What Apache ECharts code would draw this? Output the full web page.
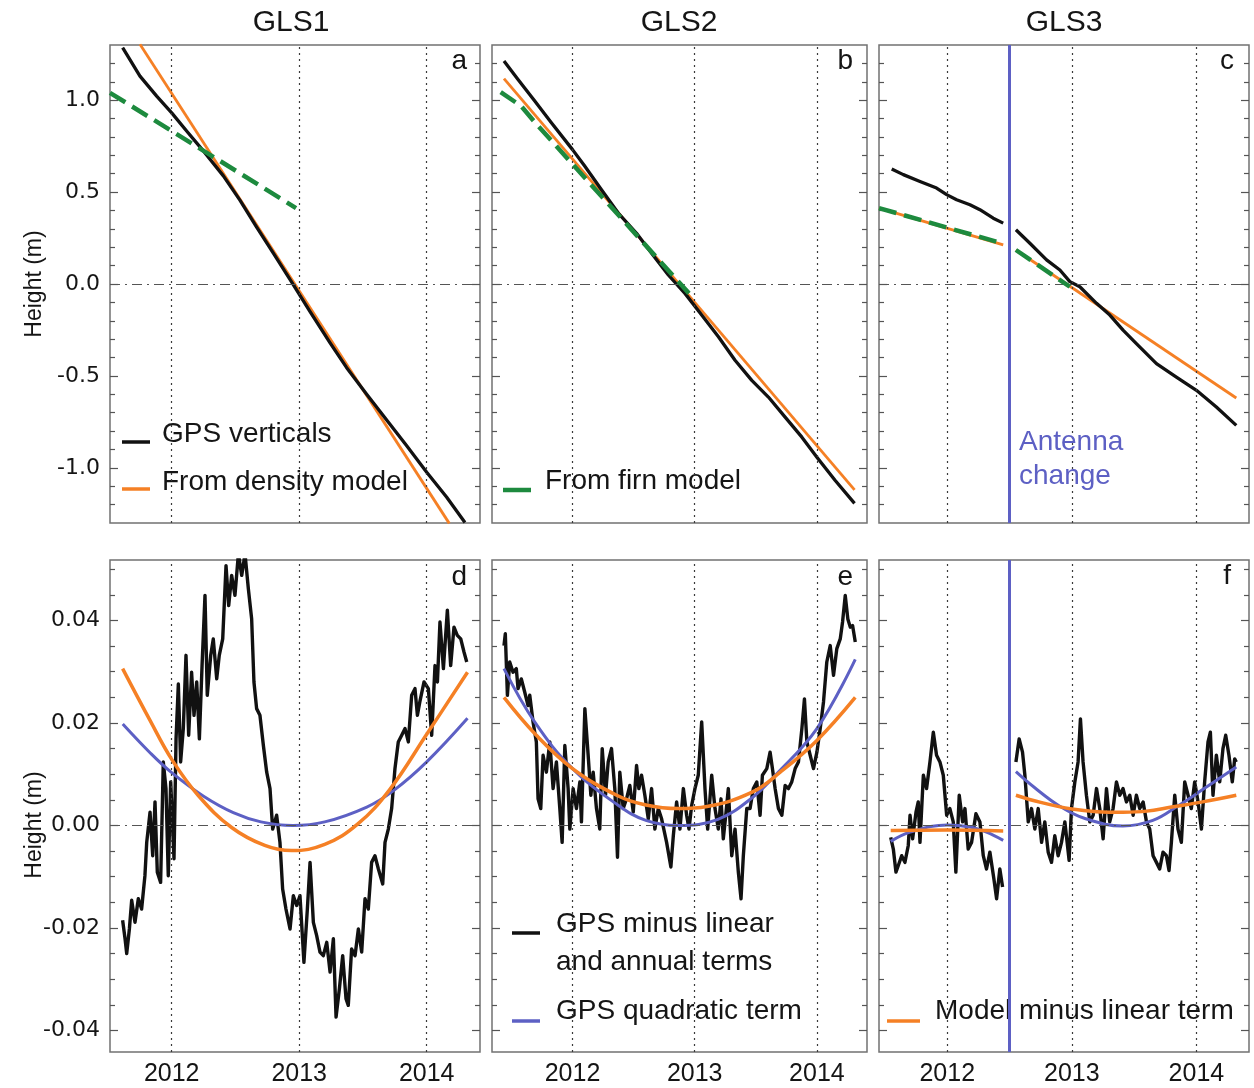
<!DOCTYPE html>
<html>
<head>
<meta charset="utf-8">
<script src="https://cdn.jsdelivr.net/npm/echarts@6/dist/echarts.min.js"></script>
<style>
  html, body { margin: 0; padding: 0; background: #fff; }
  #chart { width: 1254px; height: 1088px; }
</style>
</head>
<body>
<div id="chart"></div>
<script>
// ---------- axis ticks ----------
const yearTicks = [2012, 2013, 2014];
const topLabelTicks = [-1, -0.5, 0, 0.5, 1];
const topMinorTicks = [-1.2, -1.1, -0.9, -0.8, -0.7, -0.6, -0.4, -0.3, -0.2, -0.1,
                       0.1, 0.2, 0.3, 0.4, 0.6, 0.7, 0.8, 0.9, 1.1, 1.2];
const bottomLabelTicks = [-0.04, -0.02, 0, 0.02, 0.04];
const bottomMinorTicks = [-0.035, -0.03, -0.025, -0.015, -0.01, -0.005,
                          0.005, 0.01, 0.015, 0.025, 0.03, 0.035, 0.045, 0.05];
const antennaChange = 2012.5;

// ---------- GLS1 heights (m) ----------
const gls1Gps = [[2011.615,1.286],[2011.751,1.131],[2011.882,1.022],[2012.0,0.931],[2012.117,0.832],
  [2012.261,0.713],[2012.405,0.588],[2012.536,0.455],[2012.666,0.310],[2012.797,0.168],[2012.941,0.010],
  [2013.085,-0.150],[2013.242,-0.320],[2013.372,-0.455],[2013.529,-0.600],[2013.686,-0.740],
  [2013.843,-0.880],[2014.0,-1.024],[2014.157,-1.160],[2014.300,-1.297]];
const gls1Density = [[2011.751,1.304],[2014.177,-1.302]];
const gls1Firn = [[2011.516,1.040],[2012.975,0.413]];

// ---------- GLS2 heights (m) ----------
const gls2Gps = [[2011.439,1.213],[2011.554,1.113],[2011.691,0.995],[2011.827,0.877],[2012.0,0.731],
  [2012.101,0.640],[2012.237,0.513],[2012.374,0.386],[2012.524,0.276],[2012.647,0.167],[2012.784,0.049],
  [2012.920,-0.051],[2013.057,-0.169],[2013.194,-0.287],[2013.330,-0.415],[2013.467,-0.524],
  [2013.603,-0.615],[2013.740,-0.724],[2013.877,-0.833],[2014.0,-0.942],[2014.150,-1.069],[2014.308,-1.193]];
const gls2Density = [[2011.439,1.117],[2014.308,-1.120]];
const gls2Firn = [[2011.412,1.044],[2011.581,0.967],[2011.691,0.880],[2012.953,-0.051]];

// ---------- GLS3 heights (m), before / after the antenna change ----------
const gls3GpsBefore = [[2011.554,0.626],[2011.647,0.595],[2011.781,0.558],[2011.914,0.522],[2011.995,0.486],
  [2012.075,0.458],[2012.182,0.431],[2012.262,0.404],[2012.369,0.358],[2012.449,0.331]];
const gls3GpsAfter = [[2012.551,0.295],[2012.663,0.222],[2012.797,0.131],[2012.904,0.076],[2012.984,0.013],
  [2013.064,-0.015],[2013.198,-0.105],[2013.305,-0.169],[2013.411,-0.251],[2013.518,-0.324],
  [2013.679,-0.433],[2013.839,-0.506],[2014.0,-0.578],[2014.160,-0.669],[2014.320,-0.769]];
const gls3DensityBefore = [[2011.452,0.413],[2012.449,0.213]];
const gls3DensityAfter = [[2012.551,0.185],[2014.320,-0.620]];
const gls3FirnBefore = [[2011.452,0.413],[2012.436,0.222]];
const gls3FirnAfter = [[2012.551,0.185],[2012.984,-0.015]];

// ---------- GLS1 residuals (m) ----------
const gls1Resid = [[2011.615,-0.0185],[2011.634,-0.0221],[2011.647,-0.0250],[2011.668,-0.0202],[2011.686,-0.0146],
  [2011.712,-0.0189],[2011.738,-0.0143],[2011.764,-0.0163],[2011.790,-0.0098],[2011.804,-0.0033],
  [2011.830,0.0026],[2011.851,-0.0059],[2011.869,0.0046],[2011.887,-0.0091],[2011.913,-0.0111],
  [2011.934,0.0124],[2011.955,0.0072],[2011.973,-0.0098],[2011.992,0.0085],[2012.018,-0.0065],
  [2012.034,0.0169],[2012.052,0.0276],[2012.070,0.0124],[2012.091,0.0189],[2012.112,0.0332],
  [2012.133,0.0176],[2012.156,0.0299],[2012.175,0.0215],[2012.196,0.0280],[2012.217,0.0169],
  [2012.238,0.0312],[2012.261,0.0449],[2012.279,0.0254],[2012.306,0.0332],[2012.326,0.0364],
  [2012.353,0.0286],[2012.373,0.0332],[2012.400,0.0364],[2012.426,0.0507],[2012.447,0.0429],
  [2012.470,0.0488],[2012.496,0.0449],[2012.523,0.0530],[2012.549,0.0488],[2012.575,0.0530],
  [2012.601,0.0462],[2012.627,0.0403],[2012.645,0.0280],[2012.666,0.0228],[2012.692,0.0215],
  [2012.719,0.0156],[2012.745,0.0104],[2012.771,0.0072],[2012.792,-0.0007],[2012.823,0.0020],
  [2012.849,-0.0033],[2012.870,-0.0124],[2012.896,-0.0163],[2012.928,-0.0202],[2012.954,-0.0137],
  [2012.980,-0.0156],[2013.006,-0.0137],[2013.037,-0.0267],[2013.064,-0.0163],[2013.085,-0.0072],
  [2013.111,-0.0189],[2013.137,-0.0215],[2013.163,-0.0247],[2013.189,-0.0254],[2013.216,-0.0228],
  [2013.242,-0.0286],[2013.268,-0.0221],[2013.289,-0.0374],[2013.315,-0.0319],[2013.341,-0.0254],
  [2013.367,-0.0338],[2013.385,-0.0351],[2013.411,-0.0241],[2013.438,-0.0254],[2013.464,-0.0202],
  [2013.490,-0.0247],[2013.516,-0.0143],[2013.542,-0.0163],[2013.568,-0.0072],[2013.594,-0.0059],
  [2013.621,-0.0085],[2013.655,-0.0114],[2013.673,-0.0033],[2013.699,-0.0007],[2013.725,0.0033],
  [2013.751,0.0111],[2013.777,0.0163],[2013.804,0.0176],[2013.830,0.0189],[2013.856,0.0163],
  [2013.882,0.0254],[2013.908,0.0267],[2013.927,0.0215],[2013.946,0.0241],[2013.979,0.0280],
  [2014.013,0.0267],[2014.039,0.0176],[2014.065,0.0312],[2014.084,0.0280],[2014.104,0.0397],
  [2014.131,0.0306],[2014.162,0.0420],[2014.188,0.0312],[2014.214,0.0387],[2014.240,0.0371],
  [2014.267,0.0364],[2014.293,0.0338],[2014.314,0.0319]];
const gls1Quad = [[2011.616,0.0198],[2011.83,0.0142],[2012.0,0.0103],[2012.25,0.0057],[2012.483,0.0025],
  [2012.7,0.0007],[2012.95,0.0],[2013.2,0.0007],[2013.53,0.0036],[2013.74,0.0068],[2014.0,0.0124],[2014.32,0.0209]];
const gls1Model = [[2011.615,0.0306],[2011.83,0.0205],[2012.0,0.0129],[2012.21,0.0058],[2012.47,-0.0004],
  [2012.73,-0.0039],[2012.94,-0.0049],[2013.2,-0.0037],[2013.46,0.0003],[2013.71,0.0070],[2014.0,0.0178],[2014.32,0.0299]];

// ---------- GLS2 residuals (m) ----------
const gls2Resid = [[2011.439,0.0351],[2011.450,0.0374],[2011.467,0.0254],[2011.486,0.0319],[2011.513,0.0299],
  [2011.540,0.0306],[2011.554,0.0267],[2011.581,0.0286],[2011.609,0.0260],[2011.636,0.0234],
  [2011.650,0.0254],[2011.677,0.0202],[2011.704,0.0163],[2011.718,0.0052],[2011.740,0.0033],
  [2011.759,0.0137],[2011.786,0.0104],[2011.814,0.0163],[2011.841,0.0072],[2011.868,0.0124],
  [2011.896,0.0033],[2011.915,-0.0033],[2011.937,0.0156],[2011.964,0.0072],[2011.978,-0.0007],
  [2012.005,0.0072],[2012.032,0.0033],[2012.060,0.0085],[2012.073,0.0007],[2012.101,0.0228],
  [2012.128,0.0137],[2012.150,0.0059],[2012.169,0.0104],[2012.196,0.0033],[2012.223,-0.0007],
  [2012.243,0.0150],[2012.270,0.0059],[2012.292,0.0124],[2012.319,0.0150],[2012.346,0.0072],
  [2012.368,-0.0062],[2012.387,0.0104],[2012.415,0.0033],[2012.442,0.0052],[2012.469,0.0078],
  [2012.497,0.0026],[2012.524,0.0117],[2012.543,0.0072],[2012.565,0.0098],[2012.592,0.0059],
  [2012.620,0.0013],[2012.647,0.0072],[2012.674,-0.0007],[2012.702,0.0033],[2012.729,0.0013],
  [2012.770,-0.0033],[2012.805,-0.0081],[2012.825,-0.0020],[2012.852,0.0046],[2012.879,-0.0007],
  [2012.907,0.0072],[2012.934,0.0020],[2012.953,-0.0007],[2012.975,0.0039],[2013.002,0.0072],
  [2013.029,0.0098],[2013.057,0.0202],[2013.084,0.0072],[2013.106,-0.0007],[2013.139,0.0098],
  [2013.166,0.0033],[2013.193,-0.0007],[2013.215,0.0052],[2013.234,-0.0026],[2013.254,0.0020],
  [2013.275,0.0072],[2013.303,-0.0059],[2013.330,-0.0007],[2013.357,-0.0091],[2013.379,-0.0143],
  [2013.398,-0.0059],[2013.426,0.0033],[2013.453,0.0033],[2013.480,0.0072],[2013.508,0.0085],
  [2013.535,0.0020],[2013.554,0.0098],[2013.590,0.0111],[2013.617,0.0143],[2013.636,0.0111],
  [2013.658,0.0072],[2013.685,0.0033],[2013.713,0.0020],[2013.740,0.0078],[2013.767,0.0072],
  [2013.794,0.0085],[2013.822,0.0111],[2013.849,0.0124],[2013.877,0.0189],[2013.898,0.0247],
  [2013.918,0.0163],[2013.945,0.0137],[2013.972,0.0111],[2014.000,0.0143],[2014.027,0.0189],
  [2014.054,0.0241],[2014.081,0.0319],[2014.109,0.0351],[2014.136,0.0293],[2014.163,0.0345],
  [2014.191,0.0364],[2014.210,0.0397],[2014.232,0.0449],[2014.253,0.0403],[2014.273,0.0387],
  [2014.292,0.0390],[2014.314,0.0358]];
const gls2Quad = [[2011.439,0.0306],[2011.69,0.0202],[2012.0,0.0111],[2012.37,0.0040],[2012.6,0.0010],
  [2012.866,0.0],[2013.19,0.0012],[2013.47,0.0054],[2013.66,0.0098],[2014.0,0.0189],[2014.314,0.0324]];
const gls2Model = [[2011.439,0.0250],[2011.7,0.0177],[2012.0,0.0111],[2012.37,0.0058],[2012.6,0.0040],
  [2012.866,0.0033],[2013.1,0.0037],[2013.47,0.0065],[2013.7,0.0104],[2014.0,0.0166],[2014.314,0.0250]];

// ---------- GLS3 residuals (m), before / after the antenna change ----------
const gls3ResidBefore = [[2011.546,-0.0023],[2011.567,-0.0046],[2011.588,-0.0091],[2011.607,-0.0078],
  [2011.634,-0.0059],[2011.660,-0.0072],[2011.687,-0.0039],[2011.701,0.0020],[2011.722,-0.0026],
  [2011.749,0.0026],[2011.767,0.0046],[2011.781,-0.0033],[2011.808,0.0098],[2011.834,0.0072],
  [2011.861,0.0124],[2011.888,0.0182],[2011.914,0.0137],[2011.941,0.0124],[2011.968,0.0098],
  [2011.995,0.0020],[2012.021,0.0033],[2012.048,0.0007],[2012.069,-0.0091],[2012.096,0.0059],
  [2012.123,0.0007],[2012.142,0.0033],[2012.168,-0.0046],[2012.195,-0.0033],[2012.230,0.0023],
  [2012.262,0.0007],[2012.289,-0.0059],[2012.315,-0.0085],[2012.342,-0.0052],[2012.374,-0.0104],
  [2012.396,-0.0143],[2012.422,-0.0085],[2012.444,-0.0120]];
const gls3ResidAfter = [[2012.551,0.0124],[2012.577,0.0169],[2012.604,0.0143],[2012.623,0.0098],
  [2012.650,0.0007],[2012.676,0.0033],[2012.703,-0.0007],[2012.730,0.0033],[2012.757,-0.0033],
  [2012.783,0.0007],[2012.810,-0.0052],[2012.837,-0.0072],[2012.863,-0.0020],[2012.890,-0.0059],
  [2012.917,-0.0033],[2012.944,0.0007],[2012.978,-0.0068],[2012.997,0.0033],[2013.024,0.0085],
  [2013.050,0.0124],[2013.069,0.0208],[2013.090,0.0124],[2013.117,0.0059],[2013.144,0.0007],
  [2013.171,0.0020],[2013.198,0.0072],[2013.224,0.0033],[2013.251,-0.0026],[2013.278,0.0072],
  [2013.304,0.0007],[2013.331,0.0033],[2013.358,0.0085],[2013.385,0.0059],[2013.411,0.0072],
  [2013.438,0.0046],[2013.465,0.0059],[2013.492,0.0020],[2013.518,0.0059],[2013.545,0.0033],
  [2013.572,0.0046],[2013.599,0.0007],[2013.625,-0.0007],[2013.652,-0.0059],[2013.679,-0.0072],
  [2013.705,-0.0085],[2013.732,-0.0052],[2013.759,-0.0059],[2013.780,-0.0088],[2013.799,-0.0033],
  [2013.826,0.0059],[2013.852,-0.0007],[2013.879,-0.0033],[2013.906,0.0085],[2013.933,0.0059],
  [2013.959,0.0033],[2013.986,0.0085],[2014.013,0.0046],[2014.040,-0.0007],[2014.066,0.0085],
  [2014.093,0.0163],[2014.112,0.0182],[2014.133,0.0059],[2014.160,0.0137],[2014.187,0.0085],
  [2014.213,0.0150],[2014.235,0.0176],[2014.261,0.0137],[2014.288,0.0085],[2014.307,0.0130],
  [2014.320,0.0124]];
const gls3QuadBefore = [[2011.546,-0.0031],[2011.701,-0.0013],[2012.0,0.0001],[2012.182,-0.0003],
  [2012.315,-0.0013],[2012.449,-0.0029]];
const gls3QuadAfter = [[2012.551,0.0105],[2012.7,0.0074],[2012.9,0.0038],[2013.1,0.0014],[2013.41,-0.0001],
  [2013.65,0.0010],[2013.85,0.0038],[2014.05,0.0070],[2014.32,0.0114]];
const gls3ModelBefore = [[2011.546,-0.0010],[2012.0,-0.0009],[2012.449,-0.0011]];
const gls3ModelAfter = [[2012.551,0.0059],[2012.75,0.0045],[2013.0,0.0032],[2013.2,0.0027],[2013.41,0.0026],
  [2013.6,0.0028],[2013.8,0.0036],[2014.05,0.0046],[2014.32,0.0059]];

// ---------- styling ----------
const FONT = '"Liberation Sans", Arial, Helvetica, sans-serif';
const BLACK = '#111111';
const ORANGE = '#f58025';
const GREEN = '#1d8a3e';
const BLUE = '#5d60c4';
const FRAME = '#727272';

const panels = [
  { left: 110, top: 45,  width: 370, height: 478, xMin: 2011.516, xMax: 2014.418, row: 0, col: 0 },
  { left: 492, top: 45,  width: 375, height: 478, xMin: 2011.341, xMax: 2014.410, row: 0, col: 1 },
  { left: 879, top: 45,  width: 370, height: 478, xMin: 2011.452, xMax: 2014.422, row: 0, col: 2 },
  { left: 110, top: 560, width: 370, height: 492, xMin: 2011.516, xMax: 2014.418, row: 1, col: 0 },
  { left: 492, top: 560, width: 375, height: 492, xMin: 2011.341, xMax: 2014.410, row: 1, col: 1 },
  { left: 879, top: 560, width: 370, height: 492, xMin: 2011.452, xMax: 2014.422, row: 1, col: 2 }
];
const yRange = [{ min: -1.3, max: 1.3 }, { min: -0.0442, max: 0.0518 }];

const grids = [], xAxes = [], yAxes = [], series = [];

panels.forEach((p, i) => {
  grids.push({ left: p.left, top: p.top, width: p.width, height: p.height,
    show: true, borderColor: FRAME, borderWidth: 1.5, backgroundColor: 'transparent' });

  xAxes.push({ gridIndex: i, type: 'value', min: p.xMin, max: p.xMax,
    axisLine: { show: false }, axisTick: { show: false }, splitLine: { show: false },
    axisLabel: { show: p.row === 1, customValues: yearTicks, formatter: v => String(Math.round(v)),
      fontFamily: FONT, fontSize: 25, color: '#151515', margin: 10 } });

  const major = p.row === 0 ? topLabelTicks : bottomLabelTicks;
  const minor = p.row === 0 ? topMinorTicks : bottomMinorTicks;
  const digits = p.row === 0 ? 1 : 2;
  const base = { gridIndex: i, type: 'value', min: yRange[p.row].min, max: yRange[p.row].max,
    axisLine: { show: false }, splitLine: { show: false } };
  const tick = (vals, len) => ({ show: true, inside: true, length: len, customValues: vals,
    lineStyle: { color: '#555', width: 1.2 } });
  yAxes.push(Object.assign({}, base, { position: 'left', axisTick: tick(major, 8),
    axisLabel: { show: p.col === 0, customValues: major, formatter: v => v.toFixed(digits),
      fontFamily: '"DejaVu Sans", sans-serif', fontSize: 22, color: '#151515', margin: 10 } }));
  yAxes.push(Object.assign({}, base, { position: 'left', axisTick: tick(minor, 5), axisLabel: { show: false } }));
  yAxes.push(Object.assign({}, base, { position: 'right', axisTick: tick(major, 8), axisLabel: { show: false } }));
  yAxes.push(Object.assign({}, base, { position: 'right', axisTick: tick(minor, 5), axisLabel: { show: false } }));

  // reference lines: dotted year lines and dash-dot zero line
  series.push({ type: 'line', name: 'ref' + i, xAxisIndex: i, yAxisIndex: 4 * i, data: [], z: 1, silent: true,
    markLine: { symbol: 'none', silent: true, animation: false, label: { show: false },
      data: yearTicks.map(y => ({ xAxis: y, lineStyle: { type: [2, 4], color: '#3a3a3a', width: 1.2 } }))
        .concat([{ yAxis: 0, lineStyle: { type: [10, 5, 2, 5], color: '#555', width: 1.2 } }]) } });
});

function addLine(i, data, color, width, z, extra) {
  series.push(Object.assign({ type: 'line', xAxisIndex: i, yAxisIndex: 4 * i, data: data,
    showSymbol: false, symbol: 'none', z: z, silent: true, clip: true,
    lineStyle: { color: color, width: width, join: 'round' } }, extra || {}));
}
const dashed = { lineStyle: { color: GREEN, width: 4.5, type: [18, 8], cap: 'butt' } };
const smooth = { smooth: 0.4 };

// top row
addLine(0, gls1Density, ORANGE, 2.8, 3);
addLine(0, gls1Gps, BLACK, 3.3, 4);
addLine(0, gls1Firn, GREEN, 4.5, 5, dashed);
addLine(1, gls2Density, ORANGE, 2.8, 3);
addLine(1, gls2Gps, BLACK, 3.3, 4);
addLine(1, gls2Firn, GREEN, 4.5, 5, dashed);
addLine(2, gls3DensityBefore, ORANGE, 2.8, 3);
addLine(2, gls3DensityAfter, ORANGE, 2.8, 3);
addLine(2, gls3GpsBefore, BLACK, 3.3, 4);
addLine(2, gls3GpsAfter, BLACK, 3.3, 4);
addLine(2, gls3FirnBefore, GREEN, 4.5, 5, dashed);
addLine(2, gls3FirnAfter, GREEN, 4.5, 5, dashed);

// bottom row
addLine(3, gls1Resid, BLACK, 3.4, 3);
addLine(3, gls1Quad, BLUE, 3, 4, smooth);
addLine(3, gls1Model, ORANGE, 3.5, 5, smooth);
addLine(4, gls2Resid, BLACK, 3.4, 3);
addLine(4, gls2Quad, BLUE, 3, 4, smooth);
addLine(4, gls2Model, ORANGE, 3.5, 5, smooth);
addLine(5, gls3ResidBefore, BLACK, 3.4, 3);
addLine(5, gls3ResidAfter, BLACK, 3.4, 3);
addLine(5, gls3QuadBefore, BLUE, 3, 4, smooth);
addLine(5, gls3QuadAfter, BLUE, 3, 4, smooth);
addLine(5, gls3ModelBefore, ORANGE, 3.5, 5, smooth);
addLine(5, gls3ModelAfter, ORANGE, 3.5, 5, smooth);

// antenna change marker on GLS3
[2, 5].forEach(i => {
  series.push({ type: 'line', name: 'antenna' + i, xAxisIndex: i, yAxisIndex: 4 * i, data: [], z: 6, silent: true,
    markLine: { symbol: 'none', silent: true, animation: false, label: { show: false },
      data: [{ xAxis: antennaChange, lineStyle: { type: 'solid', color: BLUE, width: 3 } }] } });
});

// ---------- annotations ----------
const txt = (x, y, text, size, extra) => Object.assign({ type: 'text', x: x, y: y, silent: true,
  style: Object.assign({ text: text, font: size + 'px ' + FONT, fill: '#151515', verticalAlign: 'middle' },
    extra || {}) });
const seg = (x1, x2, y, color, w) => ({ type: 'line', silent: true,
  shape: { x1: x1, y1: y, x2: x2, y2: y }, style: { stroke: color, lineWidth: w } });

const graphic = [
  txt(291, 23, 'GLS1', 30, { align: 'center' }),
  txt(679, 23, 'GLS2', 30, { align: 'center' }),
  txt(1064, 23, 'GLS3', 30, { align: 'center' }),
  txt(467, 61, 'a', 28, { align: 'right' }),
  txt(853, 61, 'b', 28, { align: 'right' }),
  txt(1234, 61, 'c', 28, { align: 'right' }),
  txt(467, 577, 'd', 28, { align: 'right' }),
  txt(853, 577, 'e', 28, { align: 'right' }),
  txt(1231, 576, 'f', 28, { align: 'right' }),
  Object.assign(txt(35, 284, 'Height (m)', 23, { align: 'center' }), { rotation: Math.PI / 2 }),
  Object.assign(txt(35, 825, 'Height (m)', 23, { align: 'center' }), { rotation: Math.PI / 2 }),
  { type: 'text', x: 1019, y: 425, silent: true, z: 10,
    style: { text: 'Antenna\nchange', font: '28px ' + FONT, fill: BLUE, lineHeight: 34, verticalAlign: 'top' } },
  // legends
  seg(122, 150, 442, BLACK, 3.5), txt(162, 434, 'GPS verticals', 28),
  seg(122, 150, 489, ORANGE, 3.5), txt(162, 482, 'From density model', 28),
  seg(503, 531, 490, GREEN, 4.5), txt(545, 481, 'From firn model', 28),
  seg(512, 540, 933, BLACK, 3.5), txt(556, 924, 'GPS minus linear', 28), txt(556, 962, 'and annual terms', 28),
  seg(512, 540, 1021, BLUE, 3.5), txt(556, 1011, 'GPS quadratic term', 28),
  seg(887, 920, 1021, ORANGE, 3.5), txt(935, 1011, 'Model minus linear term', 28)
];

const chart = echarts.init(document.getElementById('chart'), null, { renderer: 'canvas' });
chart.setOption({
  animation: false,
  backgroundColor: '#ffffff',
  grid: grids,
  xAxis: xAxes,
  yAxis: yAxes,
  series: series,
  graphic: graphic
});
</script>
</body>
</html>
